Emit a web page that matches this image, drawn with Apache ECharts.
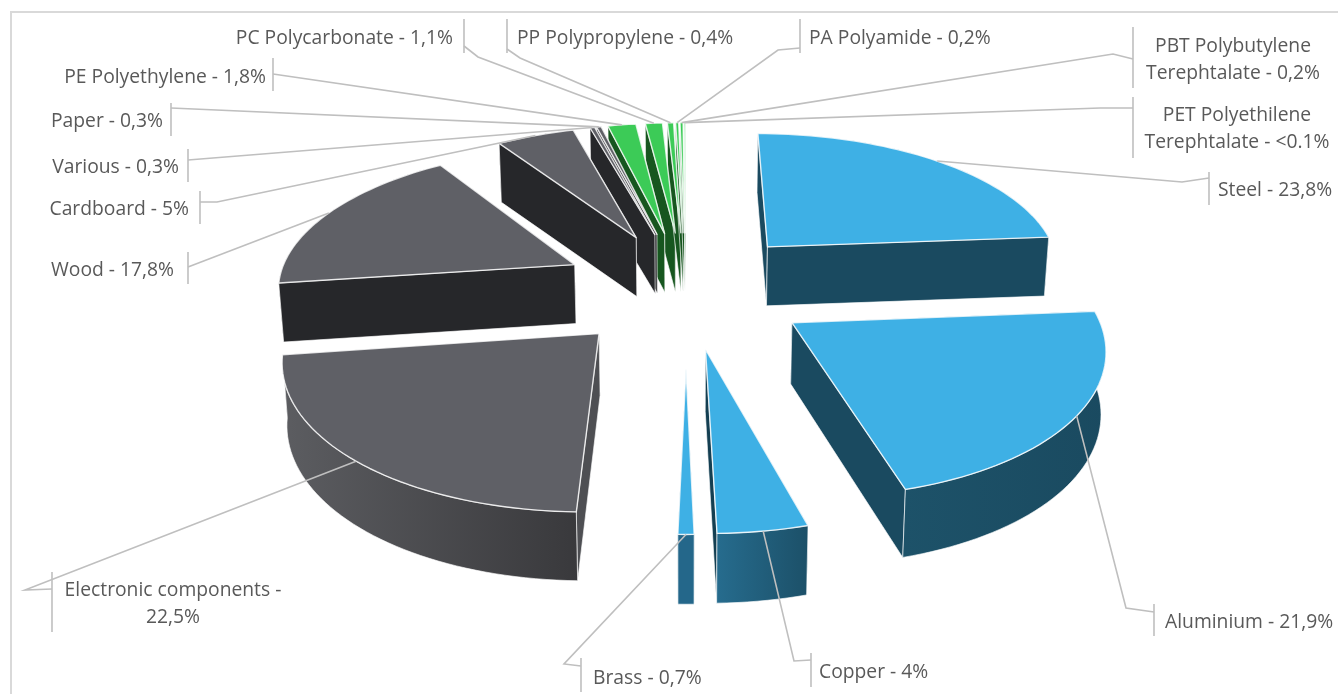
<!DOCTYPE html>
<html>
<head>
<meta charset="utf-8">
<title>Materials</title>
<script src="https://cdn.jsdelivr.net/npm/echarts@6/dist/echarts.min.js"></script>
<style>
  html, body { margin: 0; padding: 0; background: #fff; }
  #chart { width: 1338px; height: 694px; }
</style>
</head>
<body>
<div id="chart"></div>
<script>
// data, clockwise from 12 o'clock
const categories = ['Steel', 'Aluminium', 'Copper', 'Brass', 'Electronic components', 'Wood', 'Cardboard', 'Various', 'Paper', 'PE Polyethylene', 'PC Polycarbonate', 'PP Polypropylene', 'PA Polyamide', 'PBT Polybutylene Terephtalate', 'PET Polyethilene Terephtalate']
const values = [23.8, 21.9, 4, 0.7, 22.5, 17.8, 5, 0.3, 0.3, 1.8, 1.1, 0.4, 0.2, 0.2, 0.1]
const labelTexts = ['Steel - 23,8%', 'Aluminium - 21,9%', 'Copper - 4%', 'Brass - 0,7%', 'Electronic components -\n22,5%', 'Wood - 17,8%', 'Cardboard - 5%', 'Various - 0,3%', 'Paper - 0,3%', 'PE Polyethylene - 1,8%', 'PC Polycarbonate - 1,1%', 'PP Polypropylene - 0,4%', 'PA Polyamide - 0,2%', 'PBT Polybutylene\nTerephtalate - 0,2%', 'PET Polyethilene\nTerephtalate - <0.1%']

// label boxes: bar x, bar top, bar bottom, joint y, elbow [x, y] (or null), text x, text y, text align
const labelLayout = [
  { bar: [1209, 172, 205], joint: 178, elbow: [1182, 182], text: [1218, 189], align: 'left' },
  { bar: [1154, 604, 636], joint: 612, elbow: [1126, 608], text: [1165, 621], align: 'left' },
  { bar: [811, 653, 687], joint: 660, elbow: [794, 661], text: [819, 671], align: 'left' },
  { bar: [581, 658, 692], joint: 666, elbow: [564, 664], text: [593, 677], align: 'left' },
  { bar: [52, 572, 632], joint: 589, elbow: [25, 590], text: [173, 603], align: 'center' },
  { bar: [188, 252, 284], joint: 267, elbow: null, text: [174, 269], align: 'right' },
  { bar: [200, 191, 224], joint: 202, elbow: [217, 202], text: [189, 208], align: 'right' },
  { bar: [188, 149, 182], joint: 160, elbow: null, text: [179, 166], align: 'right' },
  { bar: [171, 103, 136], joint: 108, elbow: null, text: [163, 120], align: 'right' },
  { bar: [273, 58, 91], joint: 74, elbow: null, text: [266, 76], align: 'right' },
  { bar: [464, 19, 53], joint: 46, elbow: [478, 57], text: [453, 37], align: 'right' },
  { bar: [507, 19, 53], joint: 49, elbow: [520, 58], text: [517, 37], align: 'left' },
  { bar: [800, 19, 53], joint: 48, elbow: [778, 50], text: [809, 37], align: 'left' },
  { bar: [1133, 27, 88], joint: 59, elbow: [1113, 54], text: [1233, 59], align: 'center' },
  { bar: [1133, 97, 158], joint: 108, elbow: [1100, 108], text: [1237, 128], align: 'center' }
]

// colours of each slice: top face, side walls, outer wall left and right
const blue = { top: '#3EB0E5', side: '#1A4A60', outer: ['#1D5269', '#1A4A60'] }
const grey = { top: '#5F6066', side: '#26272A', outer: ['#26272A', '#26272A'] }
const green = { top: '#3CCB57', side: '#17561F', outer: ['#17561F', '#17561F'] }
const sliceStyles = [
  blue,
  blue,
  { top: '#3EB0E5', side: '#143F52', outer: ['#266C8E', '#1C5068'] },
  { top: '#3EB0E5', side: '#143F52', outer: ['#24678A', '#24678A'] },
  { top: '#5F6066', side: '#4E4F53', outer: ['#5C5D61', '#39393C'] },
  grey, grey, grey, grey,
  green, green, green, green, green, green
]

// projection of the pie plane
const cx = 686
const cy = 288
const radius = 298
const explode = 125
const camera = 2150
const tilt = 0.468
const wallShrink = 0.988
// the brass sliver starts further out than the others
const tipShift = { 3: 35 }

const total = values.reduce((a, b) => a + b, 0)
const startAngles = []
values.reduce((sum, v, i) => {
  startAngles[i] = sum / total * Math.PI * 2
  return sum + v
}, 0)

function project (X, Y) {
  const s = camera / (camera - Y)
  return [cx + X * s, cy + Y * tilt * s, s]
}

function lowered (p) {
  const height = 60 + 40 * Math.max(p[2] - 1, 0) - (p[2] < 1 ? 1 : 0)
  return [cx + (p[0] - cx) * wallShrink, p[1] + height]
}

function renderSlice (params, api) {
  const i = api.value(0)
  const sweep = api.value(1) / total * Math.PI * 2
  const a0 = startAngles[i]
  const mid = a0 + sweep / 2
  const ox = Math.sin(mid) * explode
  const oy = -Math.cos(mid) * explode
  const style = sliceStyles[i]
  const layout = labelLayout[i]

  const rim = a => project(ox + Math.sin(a) * radius, oy - Math.cos(a) * radius)
  const shift = tipShift[i] || 0
  const apex = project(ox + Math.sin(mid) * shift, oy - Math.cos(mid) * shift)
  const steps = Math.max(2, Math.ceil(sweep / 0.03))
  const arc = []
  for (let k = 0; k <= steps; k++) arc.push(rim(a0 + sweep * k / steps))
  const first = arc[0]
  const last = arc[arc.length - 1]

  const flat = p => [p[0], p[1]]
  const edge = 'rgba(255,255,255,0.8)'
  const base = 100 + Math.round((Math.cos(Math.PI - mid) + 1) * 100)

  const walls = [
    { pts: [apex, first], fill: style.side },
    { pts: [apex, last], fill: style.side },
    { pts: arc, fill: new echarts.graphic.LinearGradient(0, 0, 1, 0, [
      { offset: 0, color: style.outer[0] },
      { offset: 1, color: style.outer[1] }
    ]) }
  ].map(w => {
    const meanY = w.pts.reduce((sum, p) => sum + p[1], 0) / w.pts.length
    return { meanY, fill: w.fill, points: w.pts.map(flat).concat(w.pts.slice().reverse().map(lowered)) }
  }).sort((a, b) => a.meanY - b.meanY)

  const children = walls.map((w, k) => ({
    type: 'polygon',
    z2: base + k,
    shape: { points: w.points },
    style: { fill: w.fill, stroke: edge, lineWidth: 0.8, lineJoin: 'round' }
  }))

  children.push({
    type: 'polygon',
    z2: base + 5,
    shape: { points: [flat(apex)].concat(arc.map(flat)) },
    style: { fill: style.top, stroke: edge, lineWidth: 1.4, lineJoin: 'round' }
  })

  // leader line from the middle of the rim to the label bar
  const anchor = flat(rim(mid))
  const leader = [anchor]
  if (layout.elbow) leader.push(layout.elbow)
  leader.push([layout.bar[0], layout.joint])
  children.push({
    type: 'polyline',
    z2: 500,
    shape: { points: leader },
    style: { fill: 'none', stroke: '#BFBFBF', lineWidth: 1.6 }
  })
  children.push({
    type: 'line',
    z2: 500,
    shape: { x1: layout.bar[0], y1: layout.bar[1], x2: layout.bar[0], y2: layout.bar[2] },
    style: { stroke: '#BFBFBF', lineWidth: 1.6 }
  })
  children.push({
    type: 'text',
    z2: 501,
    style: {
      text: labelTexts[i],
      x: layout.text[0],
      y: layout.text[1] + 1.5,
      fill: '#595959',
      font: '19.3px "Open Sans"',
      lineHeight: 27,
      align: layout.align,
      verticalAlign: 'middle'
    }
  })
  return { type: 'group', children }
}

const chartInstance = echarts.init(document.getElementById('chart'))
chartInstance.setOption({
  backgroundColor: '#fff',
  animation: false,
  tooltip: { show: false },
  graphic: [{
    type: 'rect',
    z: -1,
    silent: true,
    shape: { x: 11, y: 12, width: 1400, height: 800 },
    style: { fill: '#fff', stroke: '#D9D9D9', lineWidth: 2 }
  }],
  series: [{
    type: 'custom',
    coordinateSystem: 'none',
    renderItem: renderSlice,
    data: values.map((v, i) => [i, v, categories[i]])
  }]
})
</script>
</body>
</html>
